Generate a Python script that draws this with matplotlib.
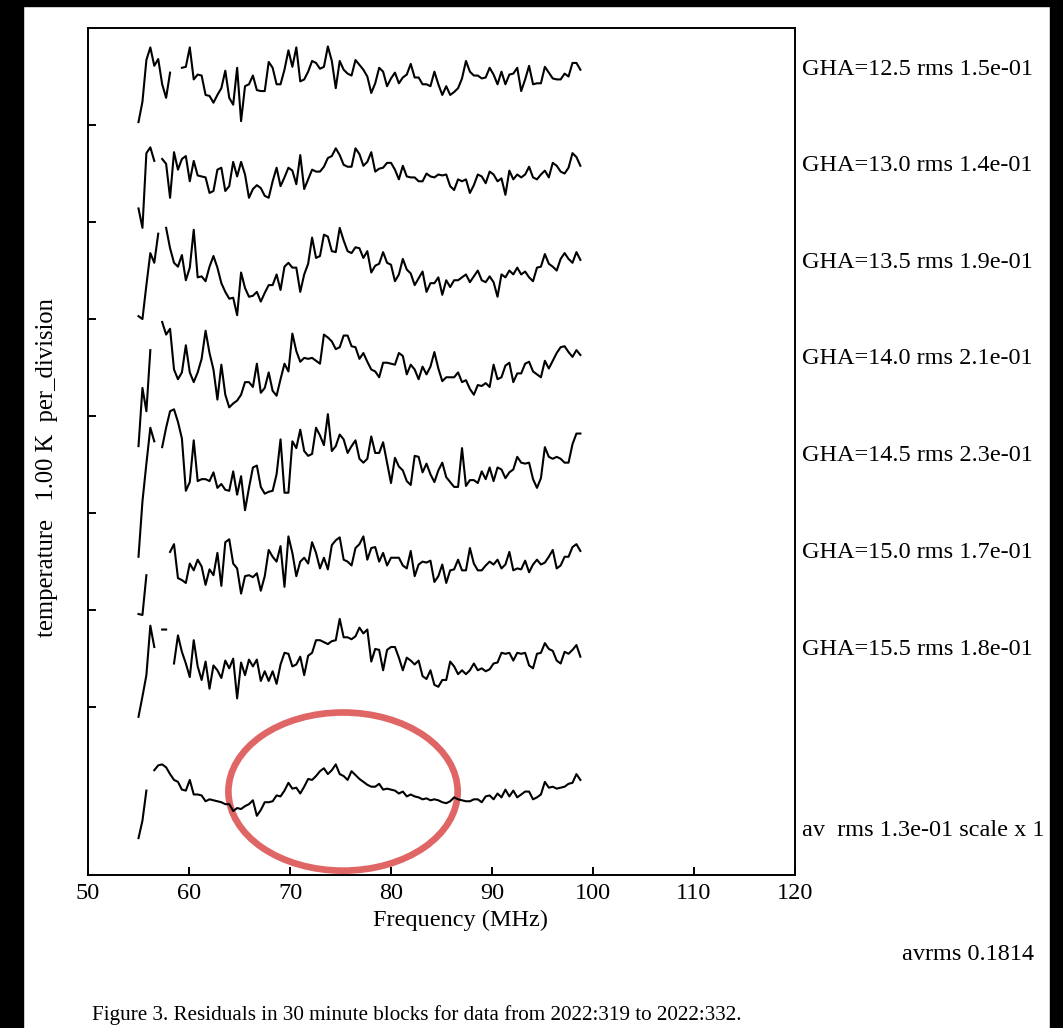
import numpy as np
import matplotlib
matplotlib.use("Agg")
import matplotlib.pyplot as plt
from matplotlib.patches import Ellipse, Rectangle

plt.rcParams['font.family'] = ['Liberation Serif', 'DejaVu Serif']

nan = np.nan
f_start, f_step = 55.0, 0.390625   # MHz channel grid

# residuals (K) for each 30 minute GHA block, nan = flagged channel
gha_125 = [-0.54, -0.33, 0.10, 0.23, 0.04, 0.11, -0.15, -0.29, -0.03, nan,
           nan, 0.02, 0.03, 0.23, -0.10, -0.05, -0.06, -0.26, -0.27, -0.34,
           -0.26, -0.19, -0.01, -0.29, -0.36, 0.02, -0.53, -0.17, -0.15, -0.06,
           -0.21, -0.22, -0.22, 0.08, 0.02, -0.15, -0.15, 0.00, 0.20, 0.03,
           0.23, -0.12, -0.10, -0.02, 0.09, 0.07, 0.01, 0.03, 0.24, 0.09,
           -0.19, 0.09, 0.00, -0.04, -0.06, 0.10, 0.05, 0.00, -0.07, -0.24,
           -0.14, 0.02, -0.02, -0.17, -0.09, -0.03, -0.14, -0.08, -0.05, 0.06,
           -0.08, -0.08, -0.15, -0.15, -0.17, -0.02, -0.15, -0.26, -0.17, -0.26,
           -0.23, -0.19, -0.09, 0.09, -0.02, -0.06, -0.06, -0.09, -0.08, 0.02,
           -0.05, -0.15, -0.02, -0.15, -0.05, -0.04, 0.02, -0.22, -0.10, 0.04,
           -0.15, -0.14, -0.14, 0.03, -0.03, -0.09, -0.10, -0.10, -0.04, -0.07,
           0.07, 0.07, 0.00]
gha_130 = [-0.44, -0.64, 0.13, 0.19, 0.05, nan, 0.07, 0.02, -0.33, 0.14,
           -0.04, 0.07, 0.10, -0.16, 0.05, -0.10, -0.11, -0.12, -0.28, -0.26,
           -0.04, -0.02, -0.26, -0.21, 0.04, -0.11, 0.04, -0.09, -0.33, -0.24,
           -0.20, -0.23, -0.31, -0.33, -0.16, -0.02, -0.21, -0.12, -0.02, -0.05,
           -0.19, 0.11, -0.24, -0.14, -0.04, -0.06, -0.06, -0.01, 0.08, 0.10,
           0.18, 0.11, 0.01, -0.01, -0.01, 0.18, 0.12, 0.00, 0.04, 0.14,
           -0.06, -0.03, -0.02, 0.03, 0.03, -0.04, -0.14, 0.00, -0.11, -0.12,
           -0.12, -0.16, -0.16, -0.08, -0.11, -0.12, -0.09, -0.10, -0.09, -0.21,
           -0.25, -0.14, -0.16, -0.14, -0.28, -0.20, -0.09, -0.11, -0.18, -0.06,
           -0.09, -0.16, -0.13, -0.30, -0.05, -0.14, -0.09, -0.12, -0.09, -0.01,
           -0.12, -0.14, -0.09, -0.05, -0.12, 0.03, 0.00, -0.06, -0.08, -0.02,
           0.13, 0.09, 0.00]
gha_135 = [-0.55, -0.58, -0.23, 0.10, 0.00, 0.30, nan, 0.36, 0.15, 0.00,
           -0.04, 0.08, -0.18, -0.05, 0.34, -0.15, -0.14, -0.19, -0.04, 0.07,
           -0.05, -0.21, -0.30, -0.37, -0.36, -0.54, -0.10, -0.26, -0.35, -0.34,
           -0.30, -0.40, -0.31, -0.23, -0.23, -0.12, -0.28, -0.04, 0.00, -0.05,
           -0.05, -0.30, -0.12, -0.01, 0.26, 0.05, 0.07, 0.29, 0.27, 0.12,
           0.11, 0.36, 0.23, 0.12, 0.10, 0.16, 0.15, 0.05, 0.12, -0.10,
           -0.03, -0.01, 0.11, 0.00, -0.02, -0.19, -0.12, 0.04, -0.07, -0.11,
           -0.23, -0.16, -0.09, -0.30, -0.21, -0.21, -0.15, -0.33, -0.18, -0.25,
           -0.18, -0.18, -0.15, -0.12, -0.20, -0.14, -0.08, -0.18, -0.20, -0.14,
           -0.20, -0.35, -0.12, -0.15, -0.08, -0.12, -0.05, -0.12, -0.09, -0.15,
           -0.19, -0.05, -0.04, 0.09, -0.01, -0.04, -0.08, 0.04, 0.10, 0.04,
           0.00, 0.11, 0.03]
gha_140 = [-0.90, -0.30, -0.54, 0.09, nan, nan, 0.38, 0.25, 0.31, -0.11,
           -0.21, -0.14, 0.14, -0.14, -0.24, -0.14, 0.00, 0.29, 0.06, -0.11,
           -0.42, -0.06, -0.37, -0.50, -0.46, -0.43, -0.37, -0.24, -0.24, -0.29,
           -0.05, -0.35, -0.30, -0.14, -0.33, -0.38, -0.21, -0.05, -0.13, 0.26,
           0.08, -0.03, 0.01, 0.00, 0.01, -0.02, -0.05, 0.25, 0.22, 0.18,
           0.10, 0.12, 0.24, 0.24, 0.13, 0.12, 0.00, 0.06, -0.03, -0.11,
           -0.13, -0.19, -0.04, -0.04, -0.05, -0.06, 0.06, 0.03, -0.16, -0.06,
           -0.11, -0.21, -0.08, -0.16, -0.08, 0.07, -0.10, -0.23, -0.19, -0.19,
           -0.19, -0.14, -0.24, -0.22, -0.31, -0.37, -0.27, -0.28, -0.25, -0.29,
           -0.06, -0.21, -0.19, -0.07, -0.04, -0.24, -0.15, -0.15, -0.05, -0.03,
           -0.13, -0.16, -0.19, -0.02, -0.10, -0.02, 0.06, 0.12, 0.13, 0.07,
           0.02, 0.09, 0.04]
gha_145 = [-1.04, -0.47, -0.08, 0.29, 0.15, nan, 0.09, 0.29, 0.46, 0.48,
           0.35, 0.18, -0.36, -0.27, 0.16, -0.26, -0.24, -0.24, -0.26, -0.17,
           -0.33, -0.29, -0.35, -0.36, -0.16, -0.40, -0.21, -0.56, -0.33, -0.12,
           -0.10, -0.32, -0.39, -0.37, -0.36, -0.19, 0.17, -0.38, -0.38, 0.15,
           0.08, 0.27, 0.05, 0.00, 0.02, 0.29, 0.21, 0.11, 0.43, 0.05,
           0.10, 0.22, 0.17, 0.03, 0.10, 0.16, -0.03, -0.07, -0.03, 0.20,
           0.03, 0.03, 0.14, -0.07, -0.28, -0.02, -0.11, -0.15, -0.26, -0.30,
           0.00, -0.01, -0.17, -0.08, -0.19, -0.27, -0.15, -0.07, -0.22, -0.27,
           -0.32, -0.32, 0.08, -0.31, -0.25, -0.25, -0.28, -0.16, -0.24, -0.12,
           -0.26, -0.12, -0.14, -0.23, -0.17, -0.14, -0.01, -0.07, -0.08, -0.07,
           -0.24, -0.33, -0.23, 0.09, -0.01, -0.03, -0.01, -0.03, -0.07, -0.07,
           0.12, 0.23, 0.23]
gha_150 = [-0.63, -0.64, -0.23, nan, nan, nan, nan, nan, 0.01, 0.09,
           -0.26, -0.28, -0.31, -0.11, -0.18, -0.07, -0.14, -0.33, -0.17, -0.23,
           0.00, -0.34, 0.11, 0.14, -0.11, -0.16, -0.42, -0.24, -0.23, -0.25,
           -0.21, -0.39, -0.24, 0.03, -0.04, -0.09, 0.07, -0.35, 0.17, 0.00,
           -0.24, -0.09, -0.05, -0.11, 0.11, 0.00, -0.16, -0.05, -0.17, 0.08,
           0.13, 0.16, -0.07, -0.09, -0.13, 0.05, 0.09, 0.17, -0.07, 0.05,
           0.06, -0.09, 0.00, -0.13, -0.05, -0.05, -0.05, -0.13, -0.16, 0.02,
           -0.24, -0.12, -0.09, -0.10, -0.08, -0.30, -0.24, -0.12, -0.31, -0.18,
           -0.17, -0.07, -0.18, -0.18, 0.05, -0.11, -0.18, -0.18, -0.13, -0.09,
           -0.12, -0.07, -0.16, -0.12, 0.01, -0.18, -0.16, -0.17, -0.08, -0.20,
           -0.12, -0.07, -0.12, -0.10, -0.04, 0.03, -0.16, -0.13, -0.04, -0.04,
           0.06, 0.09, 0.02]
gha_155 = [-0.69, -0.48, -0.26, 0.25, 0.03, nan, 0.21, 0.21, nan, -0.14,
           0.15, -0.02, -0.14, -0.28, 0.10, -0.17, -0.31, -0.12, -0.40, -0.16,
           -0.21, -0.29, -0.11, -0.19, -0.09, -0.50, -0.13, -0.26, -0.10, -0.17,
           -0.10, -0.32, -0.22, -0.32, -0.22, -0.35, -0.15, -0.03, -0.04, -0.17,
           -0.15, -0.07, -0.26, -0.06, -0.03, 0.10, 0.10, 0.08, 0.06, 0.09,
           0.10, 0.32, 0.13, 0.13, 0.11, 0.14, 0.23, 0.17, 0.21, -0.12,
           0.01, 0.00, -0.21, 0.00, 0.03, 0.03, -0.08, -0.21, -0.08, -0.11,
           -0.15, -0.11, -0.27, -0.30, -0.21, -0.36, -0.38, -0.31, -0.31, -0.12,
           -0.17, -0.25, -0.21, -0.25, -0.21, -0.14, -0.21, -0.19, -0.22, -0.20,
           -0.14, -0.13, -0.03, -0.04, -0.03, -0.11, -0.03, -0.04, -0.03, -0.16,
           -0.19, -0.04, -0.03, 0.07, 0.01, -0.01, -0.11, -0.14, -0.02, -0.04,
           0.00, 0.05, -0.07]
# average over all blocks
gha_av = [-0.08, 0.10, 0.41, nan,
          0.62, 0.67, 0.68, 0.65, 0.58, 0.52, 0.50, 0.42, 0.41, 0.52,
          0.37, 0.37, 0.36, 0.30, 0.32, 0.31, 0.30, 0.29, 0.27, 0.27,
          0.20, 0.23, 0.22, 0.25, 0.27, 0.31, 0.15, 0.21, 0.29, 0.29,
          0.30, 0.36, 0.35, 0.41, 0.49, 0.43, 0.44, 0.38, 0.45, 0.53,
          0.52, 0.56, 0.61, 0.64, 0.58, 0.62, 0.68, 0.58, 0.56, 0.52,
          0.61, 0.57, 0.53, 0.50, 0.47, 0.45, 0.45, 0.48, 0.42, 0.43,
          0.42, 0.41, 0.38, 0.40, 0.35, 0.37, 0.35, 0.34, 0.32, 0.33,
          0.31, 0.32, 0.31, 0.29, 0.28, 0.30, 0.34, 0.32, 0.31, 0.30, 0.30,
          0.32, 0.32, 0.29, 0.35, 0.36, 0.32, 0.38, 0.34, 0.42, 0.35,
          0.41, 0.34, 0.37, 0.40, 0.40, 0.32, 0.34, 0.37, 0.50, 0.44, 0.45,
          0.43, 0.44, 0.45, 0.48, 0.49, 0.58, 0.52]

blocks = [gha_125, gha_130, gha_135, gha_140, gha_145, gha_150, gha_155]
labels = ["GHA=12.5 rms 1.5e-01", "GHA=13.0 rms 1.4e-01",
          "GHA=13.5 rms 1.9e-01", "GHA=14.0 rms 2.1e-01",
          "GHA=14.5 rms 2.3e-01", "GHA=15.0 rms 1.7e-01",
          "GHA=15.5 rms 1.8e-01"]
offsets = [7.57, 6.58, 5.58, 4.59, 3.59, 2.59, 1.59]
av_label = "av  rms 1.3e-01 scale x 1"
av_offset = -0.27

W, H = 1063, 1028
fig = plt.figure(figsize=(W / 100, H / 100), dpi=100)
ax = fig.add_axes([88 / W, 1 - 875 / H, 707 / W, 847 / H])


def plot_block(vals, off, label):
    vals = np.asarray(vals, dtype=float)
    freq = f_start + f_step * np.arange(len(vals))
    ax.plot(freq, vals + off, color='black', lw=1.5)
    ax.text(120.7, off, label, fontsize=17.5, va='center', ha='left',
            clip_on=False)


for vals, off, lab in zip(blocks, offsets, labels):
    plot_block(vals, off, lab)
plot_block(gha_av, av_offset, av_label)

# highlight around the bump in the average
ax.add_patch(Ellipse((75.25, 0.13), width=22.7, height=1.63, fill=False,
                     edgecolor='#e06666', lw=4.8, clip_on=False))

ax.set_xlim(50, 120)
ax.set_ylim(-0.73, 8.0)
ax.set_xticks(np.arange(50, 121, 10))
ax.set_yticks(np.arange(1, 8))
ax.set_yticklabels([])
ax.tick_params(axis='both', direction='in', length=6, width=1.4,
               labelsize=17.5, pad=6)
ax.tick_params(axis='x', top=False)
ax.tick_params(axis='y', right=False)
for s in ax.spines.values():
    s.set_linewidth(1.4)

ax.set_xlabel("Frequency (MHz)", fontsize=17.5)
ax.xaxis.set_label_coords((460 - 88) / 707, -(920 - 875) / 847,
                          transform=ax.transAxes)
ax.xaxis.label.set_va('center')

fig.text(47 / W, 1 - 468 / H, "temperature   1.00 K  per_division",
         rotation=90, fontsize=17.7, ha='center', va='center')
fig.text(902 / W, 1 - 955 / H, "avrms 0.1814", fontsize=17.5,
         ha='left', va='center')
fig.text(92 / W, 1 - 1015 / H,
         "Figure 3. Residuals in 30 minute blocks for data from 2022:319 to 2022:332.",
         fontsize=15.2, ha='left', va='center')

# dark frame around the page
for x0, y0, w, h in [(0, 0, 23, H), (0, H - 6, W, 6), (1050, 0, 13, H)]:
    fig.add_artist(Rectangle((x0 / W, y0 / H), w / W, h / H,
                             transform=fig.transFigure, color='black',
                             zorder=10))

fig.savefig("out.png", dpi=100)
